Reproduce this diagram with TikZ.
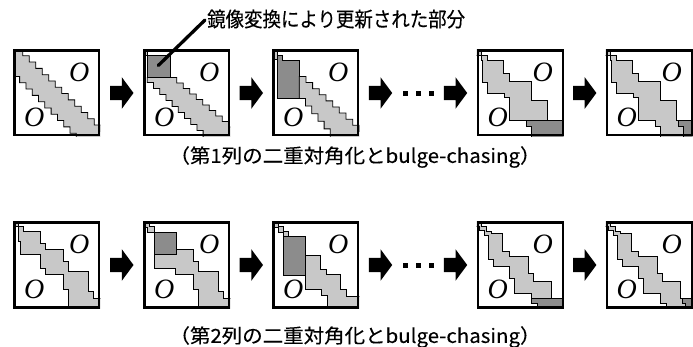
\documentclass[tikz,border=0pt]{standalone}
\usepackage{graphicx}
\usepackage{fontspec}
\newfontfamily\jpfont[FakeBold=0.25]{Noto Sans CJK JP}
\newfontfamily\oserif{Liberation Serif}
\usetikzlibrary{calc}
\definecolor{lg}{HTML}{C8C8C8}
\definecolor{dg}{HTML}{8C8C8C}
\tikzset{
  frame/.style={draw=black, line width=2.2pt, minimum width=84.8pt, minimum height=84.8pt, inner sep=0pt, outer sep=0pt},
  lband/.style={fill=lg, draw=black, line width=0.8pt},
  dband/.style={fill=dg, draw=black, line width=0.8pt},
  oletter/.style={font=\oserif\itshape\fontsize{28}{30}\selectfont, inner sep=0pt},
  captext/.style={font=\jpfont\fontsize{19.5}{22}\selectfont, inner sep=0pt},
  leader/.style={line width=3.3pt, line cap=round},
  dotsq/.style={fill=black, minimum size=5pt, inner sep=0pt, outer sep=0pt},
  blockarrow/.pic={\fill[black] (-11.7,-7.2) -- (0,-7.2) -- (0,-15.8) -- (11.7,0) -- (0,15.8) -- (0,7.2) -- (-11.7,7.2) -- cycle;}
}
\newcommand{\matbox}[4]{%
  \begin{scope}[shift={(#2,#3)}]
    \begin{scope}
      \clip (0,0) rectangle (87,87);
      #4
    \end{scope}
    \node[oletter] (#1-u) at (66,23) {O};
    \node[oletter] (#1-l) at (21,68) {O};
    \node[frame] (#1) at (43.5,43.5) {};
  \end{scope}}
\begin{document}
\begin{tikzpicture}[x=1pt,y=-1pt]
\useasboundingbox (0,0) rectangle (693,347);
% ---------------- row 1 ----------------
\matbox{r1b1}{13.3}{49.5}{%
  \filldraw[lband] (3,0) \foreach \i in {1,...,14}{ -- ++(6.5,0) -- ++(0,6.3) } -- (100,100) -- (63,100) -- (63,90)
     \foreach \i in {1,...,10}{ -- ++(0,-6.3) -- ++(-6.3,0) } -- (-5,27) -- (-5,-5) -- (3,-5) -- cycle;
}
\matbox{r1b2}{143.3}{49.5}{%
  \filldraw[lband] (-2,-2) rectangle (4,6);
  \filldraw[dband] (4,6) rectangle (27,28);
  \coordinate (hit) at (15,16);
  \filldraw[lband] (27,28) \foreach \i in {1,...,10}{ -- ++(6.5,0) -- ++(0,5.5) } -- (100,100) -- (59.8,100) -- (59.8,87)
     \foreach \i in {1,...,9}{ -- ++(0,-6) -- ++(-6.2,0) } -- (4,28) -- cycle;
}
\matbox{r1b3}{272.3}{49.5}{%
  \filldraw[lband] (-2,-2) rectangle (5,10);
  \filldraw[dband] (5,6) -- (10,6) -- (10,11) -- (27,11) -- (27,49) -- (5,49) -- cycle;
  \filldraw[lband] (27,27) \foreach \i in {1,...,10}{ -- ++(6.67,0) -- ++(0,6.1) } -- (100,100) -- (58,100) -- (58,87)
     \foreach \i in {1,...,5}{ -- ++(0,-7.6) -- ++(-6.2,0) } -- cycle;
}
\matbox{r1b4}{476.7}{49.5}{%
  \filldraw[lband] (-2,-2) -- (5,-2) -- (5,6) -- (11,6) -- (11,11) -- (27,11) -- (27,24) -- (33,24) -- (33,32) -- (55,32) -- (55,51) -- (71,51) -- (71,71) -- (50,71) -- (33,71) -- (33,48) -- (28,48) -- (28,44) -- (11,44) -- (11,33) -- (6,33) -- (6,11) -- (5,11) -- (5,6) -- (-2,6) -- cycle;
  \filldraw[dband] (50,71) -- (90,71) -- (90,90) -- (55,90) -- (55,77) -- (50,77) -- cycle;
}
\matbox{r1b5}{605.7}{49.5}{%
  \filldraw[lband] (-2,-2) -- (5,-2) -- (5,6) -- (11,6) -- (11,11) -- (27,11) -- (27,24) -- (33,24) -- (33,32) -- (55,32) -- (55,51) -- (71,51) -- (71,71) -- (73,71) -- (73,77) -- (78,77) -- (78,90) -- (55,90) -- (55,77) -- (50,77) -- (50,71) -- (33,71) -- (33,48) -- (28,48) -- (28,44) -- (11,44) -- (11,33) -- (6,33) -- (6,11) -- (5,11) -- (5,6) -- (-2,6) -- cycle;
  \filldraw[dband] (73,71) -- (90,71) -- (90,90) -- (78,90) -- (78,77) -- (73,77) -- cycle;
}
% ---------------- row 2 ----------------
\matbox{r2b1}{13.3}{221.5}{%
  \filldraw[lband] (-2,-2) -- (5,-2) -- (5,5) -- (10,5) -- (10,10) -- (27,10) -- (27,22) -- (32,22) -- (32,28) -- (50,28) -- (50,40) -- (55,40) -- (55,50) -- (75,50) -- (75,70) -- (80,70) -- (80,77) -- (90,77) -- (90,90) -- (55,90) -- (55,68) -- (50,68) -- (50,53) -- (32,53) -- (32,47) -- (27,47) -- (27,33) -- (7,33) -- (7,20) -- (5,20) -- (5,5) -- (-2,5) -- cycle;
}
\matbox{r2b2}{143.3}{221.5}{%
  \filldraw[lband] (-2,-2) -- (6,-2) -- (6,5) -- (11,5) -- (11,11) -- (4,11) -- (4,6) -- (-2,6) -- cycle;
  \filldraw[dband] (11,11) rectangle (33,33);
  \filldraw[lband] (33,28) -- (50,28) -- (50,40) -- (55,40) -- (55,50) -- (75,50) -- (75,70) -- (80,70) -- (80,77) -- (90,77) -- (90,90) -- (55,90) -- (55,68) -- (50,68) -- (50,53) -- (32,53) -- (32,47) -- (11,47) -- (11,33) -- (33,33) -- cycle;
}
\matbox{r2b3}{272.3}{221.5}{%
  \filldraw[lband] (-2,-2) -- (6,-2) -- (6,5) -- (11,5) -- (11,10) -- (16,10) -- (16,15) -- (11,15) -- (11,11) -- (6,11) -- (6,6) -- (-2,6) -- cycle;
  \filldraw[dband] (11,15) rectangle (33,54);
  \filldraw[lband] (33,34) -- (48,34) -- (48,48) -- (54,48) -- (54,53) -- (68,53) -- (68,68) -- (74,68) -- (74,75) -- (90,75) -- (90,90) -- (55,90) -- (55,74) -- (49,74) -- (49,68) -- (33,68) -- cycle;
}
\matbox{r2b4}{476.7}{221.5}{%
  \filldraw[lband] (-2,-2) -- (5,-2) -- (5,5) -- (10,5) -- (10,10) -- (15,10) -- (15,12) -- (26,12) -- (26,30) -- (33,30) -- (33,35) -- (52,35) -- (52,52) -- (57,52) -- (57,60) -- (75,60) -- (75,77) -- (55,77) -- (55,72) -- (38,72) -- (38,57) -- (33,57) -- (33,45) -- (17,45) -- (17,38) -- (12,38) -- (12,14) -- (8,14) -- (8,9) -- (3,9) -- (3,5) -- (-2,5) -- cycle;
  \filldraw[dband] (55,77) -- (90,77) -- (90,90) -- (61,90) -- (61,82) -- (55,82) -- cycle;
}
\matbox{r2b5}{605.7}{221.5}{%
  \filldraw[lband] (-2,-2) -- (5,-2) -- (5,5) -- (10,5) -- (10,10) -- (15,10) -- (15,12) -- (26,12) -- (26,30) -- (33,30) -- (33,35) -- (52,35) -- (52,52) -- (57,52) -- (57,60) -- (75,60) -- (75,77) -- (77,77) -- (77,82) -- (80,82) -- (80,90) -- (61,90) -- (61,82) -- (55,82) -- (55,72) -- (38,72) -- (38,57) -- (33,57) -- (33,45) -- (17,45) -- (17,38) -- (12,38) -- (12,14) -- (8,14) -- (8,9) -- (3,9) -- (3,5) -- (-2,5) -- cycle;
  \filldraw[dband] (77,77) -- (90,77) -- (90,90) -- (80,90) -- (80,82) -- (77,82) -- cycle;
}
% ---------------- arrows and dots ----------------
\foreach \r in {1,2}{
  \pic at ($(r\r b1.east)!0.5!(r\r b2.west)$) {blockarrow};
  \pic at ($(r\r b2.east)!0.5!(r\r b3.west)$) {blockarrow};
  \pic at ($(r\r b3.east)+(22.3,0)$) {blockarrow};
  \pic at ($(r\r b4.west)+(-22.3,0)$) {blockarrow};
  \pic at ($(r\r b4.east)!0.5!(r\r b5.west)$) {blockarrow};
  \node[dotsq] (r\r d1) at ($(r\r b3.east)+(47,1)$) {};
  \node[dotsq] (r\r d2) at ($(r\r b3.east)+(60.5,1)$) {};
  \node[dotsq] (r\r d3) at ($(r\r b3.east)+(73,1)$) {};
}
% ---------------- texts ----------------
\node[captext, anchor=west] (lbl) at (207,19) {\scalebox{0.9}[1]{\fontsize{20.5}{24}\selectfont 鏡像変換により更新された部分}};
\draw[leader] ($(lbl.west)+(-2,1)$) -- (hit);
\node[captext] (cap1) at (355,157) {\scalebox{1.05}[1]{（第1列の二重対角化とbulge-chasing）}};
\node[captext] (cap2) at (355,337) {\scalebox{1.05}[1]{（第2列の二重対角化とbulge-chasing）}};
\end{tikzpicture}
\end{document}
